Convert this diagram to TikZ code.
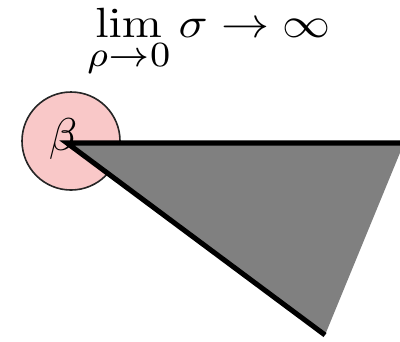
\documentclass[tikz,border=0pt]{standalone}
\usepackage{graphicx}
\begin{document}
\begin{tikzpicture}[x=0.2175pt,y=-0.2175pt,
  pinkcircle/.style={circle,draw=black!85,line width=0.35pt,fill={rgb,255:red,249;green,200;blue,200},minimum size=98*0.2175pt,inner sep=0pt},
  edge/.style={line width=1.1pt,line cap=butt,line join=miter}]
\useasboundingbox (0,0) rectangle (400,341);
\clip (0,0) rectangle (400,341);
\node[inner sep=0pt,anchor=base west] (formula) at (86,37) {\scalebox{1.045}[0.92]{$\displaystyle\lim_{\scalebox{1.08}[1.2]{$\scriptstyle\rho\to0$}}\sigma\to\infty$}};
\node[pinkcircle] (circ) at (71,141) {};
\node[inner sep=0pt] (beta) at (63,139) {$\beta$};
\coordinate (apex) at (67,143);
\coordinate (right) at (404,143);
\coordinate (bottom) at (325,335);
\fill[gray] (apex) -- (right) -- (bottom) -- cycle;
\draw[edge] (right) -- (apex) -- (bottom);
\end{tikzpicture}
\end{document}
